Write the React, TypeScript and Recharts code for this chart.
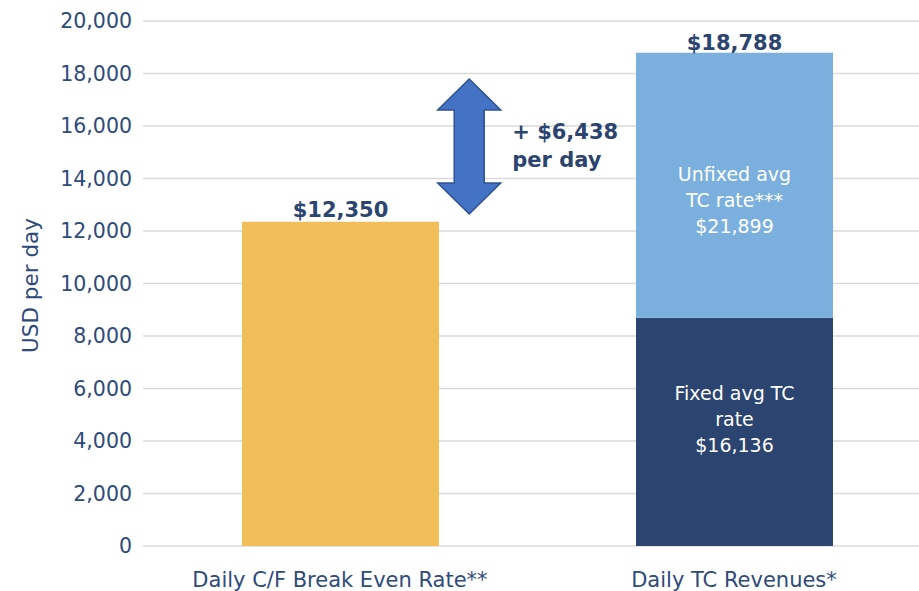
import React from "react";
import {
  BarChart,
  Bar,
  XAxis,
  YAxis,
  CartesianGrid,
  LabelList,
  ReferenceArea,
} from "recharts";

const categories = ["Daily C/F Break Even Rate**", "Daily TC Revenues*"];
const breakEven = [12350, null];
const fixedRate = [null, 8700];
const unfixedRate = [null, 10088];
const yTicks = [0, 2000, 4000, 6000, 8000, 10000, 12000, 14000, 16000, 18000, 20000];
const fixedLabel = ["Fixed avg TC", "rate", "$16,136"];
const unfixedLabel = ["Unfixed avg", "TC rate***", "$21,899"];
const arrowFrom = 12650;
const arrowTo = 17790;

const NAVY = "#2B4470";
const TEXT = "#2E4A7B";
const FONT = "DejaVu Sans";

const data = categories.map((name, i) => ({
  name,
  breakEven: breakEven[i],
  fixed: fixedRate[i],
  unfixed: unfixedRate[i],
}));

const totalRevenue = (fixedRate[1] ?? 0) + (unfixedRate[1] ?? 0);
const gap = totalRevenue - (breakEven[0] ?? 0);

const money = (v: number) => "$" + v.toLocaleString("en-US");

function insideLabel(lines: string[], shift: number) {
  return (props: any) => {
    const { x, y, width, height, value } = props;
    if (value == null) return null;
    const cx = x + width / 2;
    const cy = y + height / 2 + shift;
    const lh = 26;
    const start = cy - ((lines.length - 1) * lh) / 2;
    return (
      <text x={cx} textAnchor="middle" fill="#FFFFFF" fontSize={19} fontFamily={FONT}>
        {lines.map((l, i) => (
          <tspan key={i} x={cx} y={start + i * lh} dy="0.35em">
            {l}
          </tspan>
        ))}
      </text>
    );
  };
}

const totalLabel = (props: any) => {
  const { x, y, width, value } = props;
  if (value == null) return null;
  return (
    <text
      x={x + width / 2}
      y={y - 3}
      textAnchor="middle"
      fill={NAVY}
      fontSize={21}
      fontWeight="bold"
      fontFamily={FONT}
    >
      {money(totalRevenue)}
    </text>
  );
};

const ArrowShape = (props: any) => {
  const { x, y, width, height } = props;
  const cx = x + width * 0.414;
  const top = y;
  const bot = y + height;
  const hw = 31.5;
  const sw = 15;
  const hl = 31;
  const d = [
    `M${cx},${top}`,
    `L${cx + hw},${top + hl}`,
    `L${cx + sw},${top + hl}`,
    `L${cx + sw},${bot - hl}`,
    `L${cx + hw},${bot - hl}`,
    `L${cx},${bot}`,
    `L${cx - hw},${bot - hl}`,
    `L${cx - sw},${bot - hl}`,
    `L${cx - sw},${top + hl}`,
    `L${cx - hw},${top + hl}`,
    "Z",
  ].join(" ");
  const mid = (top + bot) / 2;
  return (
    <g>
      <path d={d} fill="#4472C4" stroke="#2F528F" strokeWidth={1.5} />
      <text x={cx + 43} y={mid - 7} fill={NAVY} fontSize={21} fontWeight="bold" fontFamily={FONT}>
        {"+ " + money(gap)}
      </text>
      <text x={cx + 43} y={mid + 21} fill={NAVY} fontSize={21} fontWeight="bold" fontFamily={FONT}>
        per day
      </text>
    </g>
  );
};

const yLabel = (props: any) => {
  const vb = props.viewBox || {};
  const cy = (vb.y ?? 0) + (vb.height ?? 0) / 2 + 2;
  return (
    <text
      x={30}
      y={cy}
      transform={`rotate(-90, 30, ${cy})`}
      textAnchor="middle"
      dominantBaseline="central"
      fill={TEXT}
      fontSize={21.5}
      fontFamily={FONT}
    >
      USD per day
    </text>
  );
};

export default function App() {
  return (
    <div
      style={{
        position: "absolute",
        left: 0,
        top: 0,
        width: 919,
        height: 591,
        overflow: "hidden",
        background: "#fff",
      }}
    >
      <BarChart
        width={940}
        height={591}
        data={data}
        margin={{ top: 21, right: 9, left: 0, bottom: 0 }}
      >
        <CartesianGrid vertical={false} stroke="#D9D9D9" strokeWidth={1.5} />
        <XAxis
          dataKey="name"
          axisLine={false}
          tickLine={false}
          height={45}
          tickMargin={20}
          tick={{ fill: TEXT, fontSize: 21, fontFamily: FONT }}
        />
        <YAxis
          width={143}
          domain={[0, 20000]}
          ticks={yTicks}
          axisLine={false}
          tickLine={false}
          tickMargin={5}
          tickFormatter={(v) => v.toLocaleString("en-US")}
          tick={{ fill: TEXT, fontSize: 20.5, fontFamily: FONT }}
          label={{ content: yLabel }}
        />
        <ReferenceArea y1={arrowFrom} y2={arrowTo} shape={ArrowShape} />
        <Bar dataKey="breakEven" stackId="a" fill="#F2BE5A" barSize={197} isAnimationActive={false}>
          <LabelList
            dataKey="breakEven"
            position="top"
            offset={5}
            formatter={(v: any) => (v == null ? "" : money(v))}
            fill={NAVY}
            fontSize={21}
            fontWeight="bold"
            fontFamily={FONT}
          />
        </Bar>
        <Bar dataKey="fixed" stackId="a" fill={NAVY} barSize={197} isAnimationActive={false}>
          <LabelList dataKey="fixed" content={insideLabel(fixedLabel, -12)} />
        </Bar>
        <Bar dataKey="unfixed" stackId="a" fill="#7BAFDE" barSize={197} isAnimationActive={false}>
          <LabelList dataKey="unfixed" content={insideLabel(unfixedLabel, 15)} />
          <LabelList dataKey="unfixed" content={totalLabel} />
        </Bar>
      </BarChart>
    </div>
  );
}
